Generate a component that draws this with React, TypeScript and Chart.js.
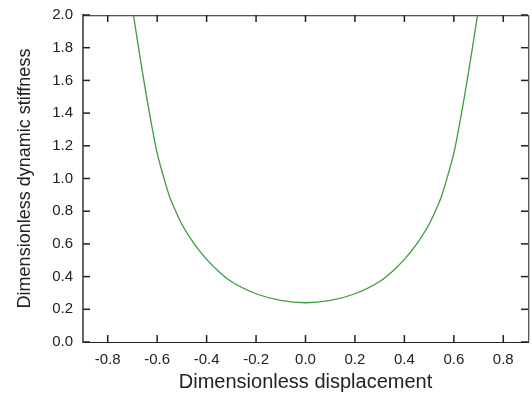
import React, { useEffect, useRef } from "react";
import { Chart, registerables } from "chart.js";

Chart.register(...registerables);

// Curve (symmetric U-shape)
const xValues = [
  -0.696, -0.68, -0.66, -0.63, -0.6, -0.575, -0.55, -0.525, -0.5, -0.45, -0.4, -0.35, -0.3, -0.2, -0.1,
  0,
  0.1, 0.2, 0.3, 0.35, 0.4, 0.45, 0.5, 0.525, 0.55, 0.575, 0.6, 0.63, 0.66, 0.68, 0.696,
];
const stiffness = [
  2.0, 1.845, 1.655, 1.39, 1.155, 1.015, 0.89, 0.8, 0.72, 0.6, 0.505, 0.43, 0.37, 0.295, 0.254,
  0.24,
  0.254, 0.295, 0.37, 0.43, 0.505, 0.6, 0.72, 0.8, 0.89, 1.015, 1.155, 1.39, 1.655, 1.845, 2.0,
];
const xTicks = [-0.8, -0.6, -0.4, -0.2, 0.0, 0.2, 0.4, 0.6, 0.8];
const yTicks = [0.0, 0.2, 0.4, 0.6, 0.8, 1.0, 1.2, 1.4, 1.6, 1.8, 2.0];
const xTitle = "Dimensionless displacement";
const yTitle = "Dimensionless dynamic stiffness";

const fmt = (v: number) => (Math.abs(v) < 1e-9 ? "0.0" : v.toFixed(1));

const frameTicks = {
  id: "frameTicks",
  afterDraw(chart: any) {
    const ctx = chart.ctx;
    const area = chart.chartArea;
    const left = area.left;
    const right = area.right;
    const top = area.top;
    const bottom = area.bottom;
    const xs = chart.scales["x"];
    const ys = chart.scales["y"];
    ctx.save();
    ctx.fillStyle = "#555";
    ctx.fillRect(left, top, right - left + 1, 1.3);
    ctx.fillRect(right, top, 1.3, bottom - top);
    ctx.fillStyle = "#222";
    const L = 7;
    const W = 1.5;
    for (let i = 0; i < xTicks.length; i++) {
      const p = xs.getPixelForValue(xTicks[i]);
      ctx.fillRect(p - W / 2, bottom - L, W, L);
      ctx.fillRect(p - W / 2, top, W, L);
    }
    for (let i = 0; i < yTicks.length; i++) {
      const p = ys.getPixelForValue(yTicks[i]);
      ctx.fillRect(left, p - W / 2, L, W);
      ctx.fillRect(right - L, p - W / 2, L, W);
    }
    ctx.restore();
  },
};

export default function App() {
  const ref = useRef<HTMLCanvasElement>(null);
  useEffect(() => {
    if (!ref.current) return;
    const font = "Arial, 'Liberation Sans', sans-serif";
    const chart = new Chart(ref.current, {
      type: "line",
      data: {
        datasets: [
          {
            data: xValues.map((x, i) => ({ x, y: stiffness[i] })),
            borderColor: "#3f9c3f",
            borderWidth: 1.3,
            pointRadius: 0,
            cubicInterpolationMode: "monotone",
            fill: false,
          },
        ],
      },
      options: {
        animation: false,
        responsive: false,
        maintainAspectRatio: false,
        layout: { padding: { left: 0, right: 4, top: 15, bottom: 0 } },
        plugins: { legend: { display: false }, tooltip: { enabled: false } },
        scales: {
          x: {
            type: "linear",
            min: -0.9,
            max: 0.9,
            grid: { display: false, drawTicks: false },
            border: { display: true, color: "#222", width: 1 },
            afterBuildTicks: (s: any) => {
              s.ticks = xTicks.map((v) => ({ value: v }));
            },
            afterFit: (s: any) => {
              s.height = 54;
              s.paddingLeft = 0;
              s.paddingRight = 0;
            },
            ticks: {
              padding: 9,
              color: "#222",
              font: { family: font, size: 15 },
              maxRotation: 0,
              autoSkip: false,
              callback: (v: any) => fmt(Number(v)),
            },
            title: {
              display: true,
              text: xTitle,
              color: "#222",
              font: { family: font, size: 20 },
              padding: { top: 0, bottom: 2 },
            },
          },
          y: {
            type: "linear",
            min: 0,
            max: 2,
            grid: { display: false, drawTicks: false },
            border: { display: true, color: "#666", width: 2 },
            afterBuildTicks: (s: any) => {
              s.ticks = yTicks.map((v) => ({ value: v }));
            },
            afterFit: (s: any) => {
              s.width = 83;
              s.paddingTop = 0;
              s.paddingBottom = 0;
            },
            ticks: {
              padding: 10,
              color: "#222",
              font: { family: font, size: 15 },
              autoSkip: false,
              callback: (v: any) => fmt(Number(v)),
            },
            title: {
              display: true,
              text: yTitle,
              color: "#222",
              font: { family: font, size: 18 },
              padding: { top: 14, bottom: 0 },
            },
          },
        },
      },
      plugins: [frameTicks],
    } as any);
    return () => chart.destroy();
  }, []);
  return (
    <div style={{ position: "fixed", left: 0, top: 0, width: 532, height: 396, background: "#fff" }}>
      <canvas ref={ref} width={532} height={396} />
    </div>
  );
}
